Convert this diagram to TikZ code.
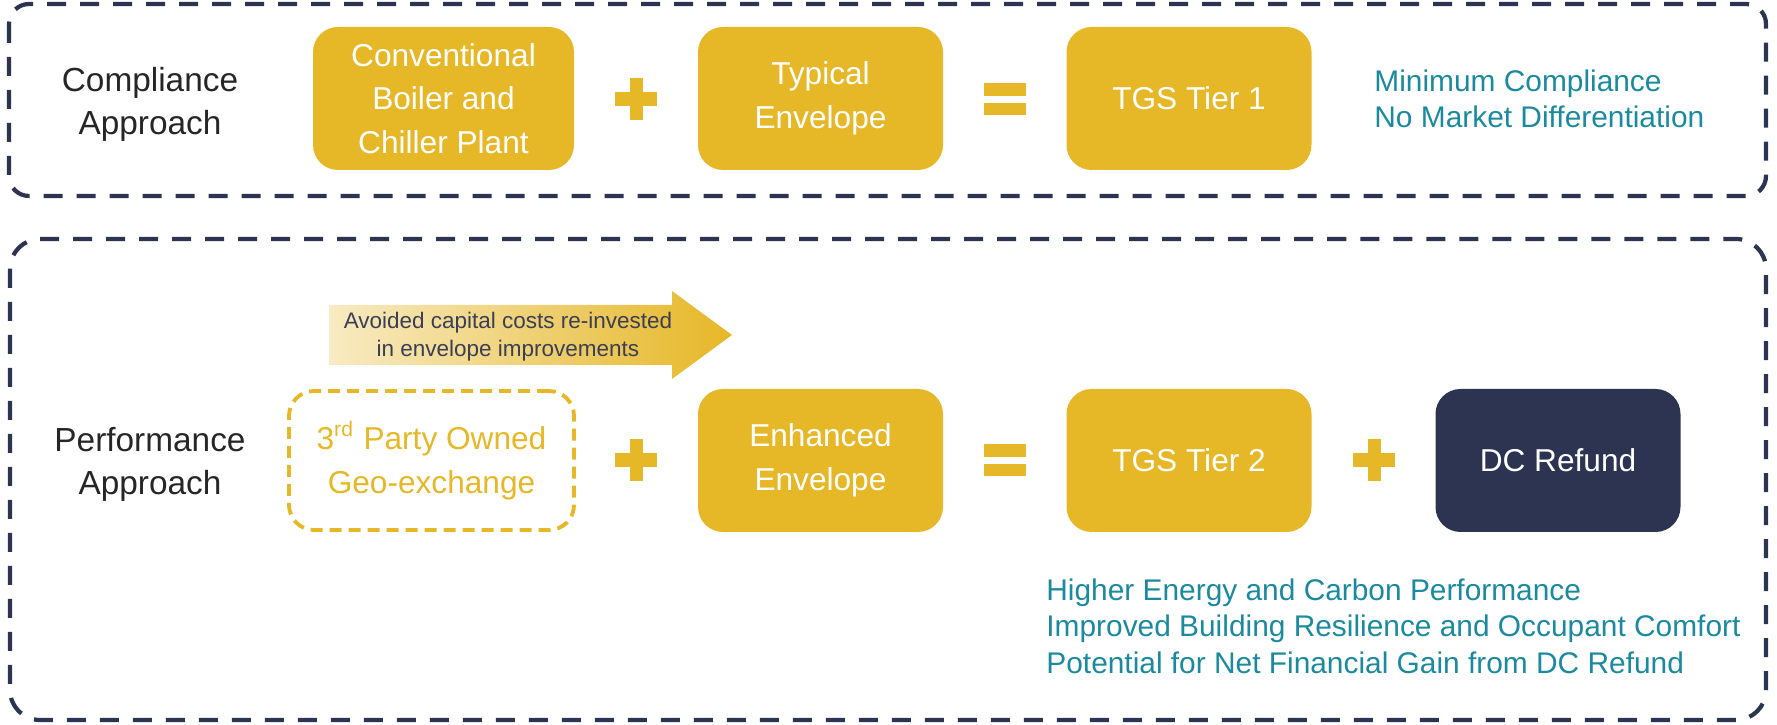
\documentclass[tikz,border=0pt]{standalone}
\usepackage{fontspec}
\setmainfont{Liberation Sans}
\usepackage{xcolor}
\usetikzlibrary{positioning}
\definecolor{tgsGold}{RGB}{230,183,39}
\definecolor{tgsNavy}{RGB}{45,52,82}
\definecolor{tgsTeal}{RGB}{27,138,159}
\definecolor{tgsInk}{RGB}{58,63,85}

\begin{document}
\begin{tikzpicture}[
    frame/.style={draw=tgsNavy, line width=1.2pt, dash pattern=on 0.19cm off 0.14cm},
    box/.style={fill=tgsGold, rounded corners=0.25cm, minimum width=2.45cm, minimum height=1.43cm,
                text=white, align=center, font=\fontsize{9}{12.4}\selectfont},
    ghostbox/.style={box, fill=none, draw=tgsGold, line width=1.1pt, dash pattern=on 0.12cm off 0.07cm,
                     text=tgsGold, minimum width=2.85cm, minimum height=1.39cm},
    darkbox/.style={box, fill=tgsNavy},
    approach/.style={align=center, text=black!85, font=\fontsize{9.5}{12.2}\selectfont},
    note/.style={anchor=west, align=left, text=tgsTeal, font=\fontsize{8.5}{10.4}\selectfont}
  ]
  \useasboundingbox (0,0) rectangle (17.77,-7.25);

  % dashed frames
  \draw[frame, rounded corners=0.2cm] (0.09,-0.04) rectangle (17.66,-1.96);
  \draw[frame, rounded corners=0.3cm] (0.10,-2.39) rectangle (17.66,-7.20);

  % compliance row
  \node[approach] (compl) at (1.50,-1.04) {Compliance\\Approach};
  \node[box, minimum width=2.61cm] (plant) at (4.435,-0.985) {Conventional\\Boiler and\\Chiller Plant};
  \node[box] (typenv) at (8.205,-0.985) {Typical\\Envelope};
  \node[box] (tier1) at (11.89,-0.985) {TGS Tier 1};
  \node[note] (minnote) at (13.62,-0.99) {Minimum Compliance\\No Market Differentiation};

  % performance row
  \node[approach] (perf) at (1.50,-4.64) {Performance\\Approach};
  \node[ghostbox] (geo) at (4.315,-4.605) {3\textsuperscript{rd} Party Owned\\Geo-exchange};
  \node[box] (enhenv) at (8.205,-4.605) {Enhanced\\Envelope};
  \node[box] (tier2) at (11.89,-4.605) {TGS Tier 2};
  \node[darkbox] (refund) at (15.58,-4.605) {DC Refund};
  \node[note] (perfnote) at (10.34,-6.26)
    {Higher Energy and Carbon Performance\\Improved Building Resilience and Occupant Comfort\\Potential for Net Financial Gain from DC Refund};

  % re-invest arrow
  \shade[left color=tgsGold!28, right color=tgsGold]
    (3.29,-3.05) -- (6.72,-3.05) -- (6.72,-2.91) -- (7.32,-3.35)
    -- (6.72,-3.79) -- (6.72,-3.65) -- (3.29,-3.65) -- cycle;
  \node[align=center, text=tgsInk, font=\fontsize{6.4}{8}\selectfont] (reinvest) at (5.08,-3.37)
    {Avoided capital costs re-invested\\in envelope improvements};

  % plus and equals signs
  \foreach \x/\y in {6.36/-0.99, 6.36/-4.60, 13.74/-4.60} {
    \fill[tgsGold] (\x-0.21,\y-0.07) rectangle (\x+0.21,\y+0.07);
    \fill[tgsGold] (\x-0.065,\y-0.21) rectangle (\x+0.065,\y+0.21);
  }
  \foreach \y in {-0.995, -4.605} {
    \fill[tgsGold] (9.84,\y+0.035) rectangle (10.26,\y+0.16);
    \fill[tgsGold] (9.84,\y-0.035) rectangle (10.26,\y-0.16);
  }
\end{tikzpicture}
\end{document}
